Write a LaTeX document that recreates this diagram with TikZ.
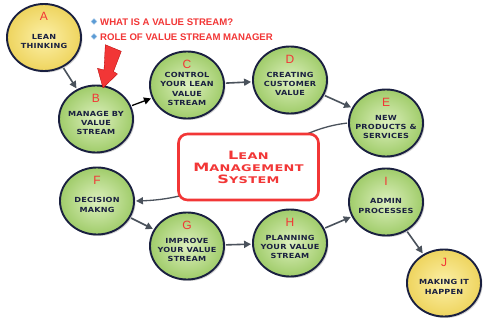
\documentclass[tikz,border=0pt]{standalone}
\usepackage{fontspec}
\setmainfont{DejaVu Sans}
\newfontfamily\stagefont{DejaVu Sans}[FakeStretch=1.16,LetterSpace=3]
\newfontfamily\boxfont{DejaVu Sans}[FakeStretch=1.4,LetterSpace=4]
\newfontfamily\letfont{Liberation Sans}
\newfontfamily\bulfont{Liberation Sans}
\usetikzlibrary{arrows.meta,shadows,shapes.geometric}
\definecolor{navy}{HTML}{1A2040}
\definecolor{ltred}{HTML}{F23636}
\definecolor{gin}{HTML}{DDF0BE}
\definecolor{gout}{HTML}{A0CC6A}
\definecolor{yin}{HTML}{FCF0A8}
\definecolor{yout}{HTML}{EED45E}
\definecolor{conngray}{HTML}{4A525C}
\definecolor{bulblue}{HTML}{5B9BD5}
\tikzset{
  ball/.style={ellipse, draw=navy, line width=1.9pt, minimum width=74pt, minimum height=67pt,
    inner sep=0pt, shading=radial, drop shadow={opacity=0.35, shadow xshift=1.5pt, shadow yshift=-1.5pt}},
  greenball/.style={ball, inner color=gin, outer color=gout},
  yellowball/.style={ball, inner color=yin, outer color=yout},
  lettr/.style={text=ltred, font=\letfont\fontsize{12}{13}\selectfont, inner sep=0pt},
  stagetxt/.style={text=navy, font=\stagefont\bfseries\fontsize{7}{9.3}\selectfont, align=center, inner sep=0pt},
  conn/.style={draw=conngray, line width=1.6pt, -{Triangle[length=7pt,width=7pt]}, shorten >=1pt, shorten <=1pt},
  bultxt/.style={text=ltred, font=\bulfont\bfseries\fontsize{9.6}{11}\selectfont, anchor=west, inner sep=0pt},
  bulmark/.style={diamond, shape aspect=1, fill=bulblue, draw=bulblue!60!white, line width=0.4pt, minimum size=6pt, inner sep=0pt},
}
\newcommand\stage[6]{%
  \node[#4] (#1) at (#2,#3) {};
  \node[lettr] (#1l) at (#1) [yshift=21pt] {#5};
  \node[stagetxt] (#1t) at (#1) [yshift=-4pt] {#6};
}
\newcommand\bsc[2]{{\fontsize{11.5}{17}\selectfont #1}{\fontsize{9.2}{17}\selectfont #2}}
\begin{document}
\begin{tikzpicture}[x=1pt,y=-1pt]
\useasboundingbox[fill=white] (0,0) rectangle (485,321);
% stages
\stage{A}{44}{37.5}{yellowball}{A}{LEAN\\THINKING}
\stage{B}{96}{119}{greenball}{B}{MANAGE BY\\VALUE\\STREAM}
\stage{C}{187}{85}{greenball}{C}{CONTROL\\YOUR LEAN\\VALUE\\STREAM}
\stage{D}{290}{80}{greenball}{D}{CREATING\\CUSTOMER\\VALUE}
\stage{E}{386}{123}{greenball}{E}{NEW\\PRODUCTS \&\\SERVICES}
\stage{F}{97}{201}{greenball}{F}{DECISION\\MAKNG}
\stage{G}{187}{246}{greenball}{G}{IMPROVE\\YOUR VALUE\\STREAM}
\stage{H}{290}{243}{greenball}{H}{PLANNING\\YOUR VALUE\\STREAM}
\stage{I}{386}{202}{greenball}{I}{ADMIN\\PROCESSES}
\stage{J}{444}{283}{yellowball}{J}{MAKING IT\\HAPPEN}
% connectors
\draw[conn] (A) -- (B);
\draw[conn, draw=black, line width=1.3pt] (B) -- (C);
\draw[conn] (C) -- (D);
\draw[conn] (D) -- (E);
\draw[conn] (F) -- (G);
\draw[conn] (G) -- (H);
\draw[conn] (H) -- (I);
\draw[conn] (I) -- (J);
\draw[conn, line width=1.3pt] (E.west) .. controls (275,131) and (235,198) .. (F.east);
% central box
\node[draw=ltred, line width=2.6pt, rounded corners=9pt, fill=white, minimum width=140pt, minimum height=66pt,
  text=ltred, align=center, font=\boxfont\bfseries, inner sep=0pt] (LMS) at (248.5,167)
  {\bsc{L}{EAN}\\\bsc{M}{ANAGEMENT}\\\bsc{S}{YSTEM}};
% bullets
\node[bulmark] (b1) at (94,21.5) {};
\node[bultxt] (t1) at (100,22) {WHAT IS A VALUE STREAM?};
\node[bulmark] (b2) at (94,36.5) {};
\node[bultxt] (t2) at (100,37) {ROLE OF VALUE STREAM MANAGER};
% big red arrow
\fill[ltred, draw=red!70!black, line width=0.3pt]
  (105.3,44.7) -- (121.3,51.3) -- (113.5,71.5) -- (117.5,74) -- (103,88) -- (97.5,68.3) -- (104,70) -- cycle;
\end{tikzpicture}
\end{document}
